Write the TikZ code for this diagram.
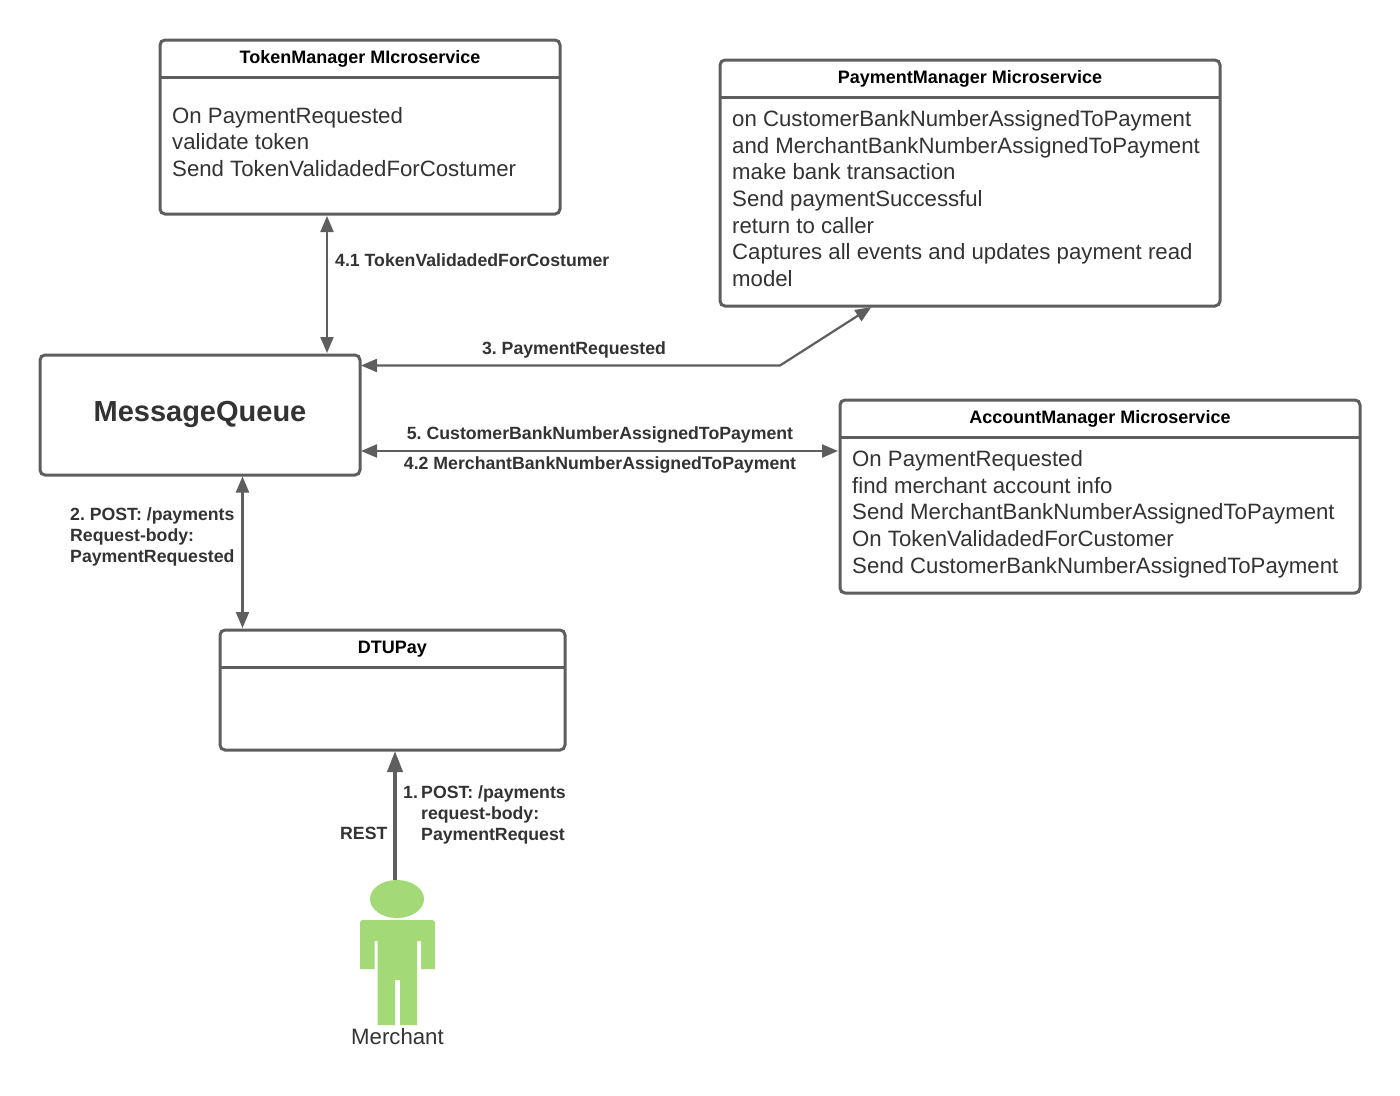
\documentclass[tikz,border=0pt]{standalone}
\usepackage{fontspec}
\setmainfont{Liberation Sans}
\usetikzlibrary{arrows.meta,calc,shapes.geometric}
\definecolor{ln}{HTML}{5E5E5E}
\definecolor{tx}{HTML}{333333}
\definecolor{grn}{HTML}{A3D977}
\tikzset{
  box/.style={draw=ln,line width=3pt,rounded corners=5pt,fill=white,inner sep=0pt,outer sep=0pt,minimum width=#1},
  divider/.style={draw=ln,line width=3pt},
  head/.style={font=\fontsize{18}{21}\selectfont\bfseries,text=black,inner sep=0pt,anchor=center},
  body/.style={font=\fontsize{22.2}{26.6}\selectfont,text=tx,inner sep=0pt,anchor=north west,align=left},
  lab/.style={font=\fontsize{17.7}{21.3}\selectfont\bfseries\frenchspacing,text=tx,inner sep=0pt,align=left},
  conn/.style={draw=ln,line width=2.2pt},
  two/.style={{Triangle[length=16pt,width=13pt]}-{Triangle[length=16pt,width=13pt]}},
  one/.style={-{Triangle[length=21pt,width=15pt]}},
}
\begin{document}
\begin{tikzpicture}[x=1pt,y=-1pt]
\useasboundingbox (0,0) rectangle (1400,1095);
\fill[white] (0,0) rectangle (1400,1095);
% boxes
\node[box=400pt,minimum height=174pt] (tm) at (360,127) {};
\node[box=500pt,minimum height=246pt] (pm) at (970,183) {};
\node[box=520pt,minimum height=193pt] (am) at (1100,496.5) {};
\node[box=320pt,minimum height=120pt] (mq) at (200,415) {};
\node[box=345pt,minimum height=120pt] (dtu) at (392.5,690) {};
% header dividers
\coordinate (tmd) at (0,77);
\coordinate (pmd) at (0,97);
\coordinate (amd) at (0,437);
\coordinate (dtd) at (0,667);
\draw[divider] (tm.west |- tmd) -- (tm.east |- tmd);
\draw[divider] (pm.west |- pmd) -- (pm.east |- pmd);
\draw[divider] (am.west |- amd) -- (am.east |- amd);
\draw[divider] (dtu.west |- dtd) -- (dtu.east |- dtd);
% headers
\node[head] (tmh) at (360,58.5) {TokenManager MIcroservice};
\node[head] (pmh) at (970,78.5) {PaymentManager Microservice};
\node[head] (amh) at (1100,418.5) {AccountManager Microservice};
\node[head] (dth) at (392.5,648.8) {DTUPay};
% bodies
\node[body] (tmb) at (172,107) {On PaymentRequested\\validate token\\Send TokenValidadedForCostumer};
\node[body] (pmb) at (732,110.5) {on CustomerBankNumberAssignedToPayment\\and MerchantBankNumberAssignedToPayment\\make bank transaction\\Send paymentSuccessful\\return to caller\\Captures all events and updates payment read\\model};
\node[body] (amb) at (852,450.5) {On PaymentRequested\\find merchant account info\\Send MerchantBankNumberAssignedToPayment\\On TokenValidadedForCustomer\\Send CustomerBankNumberAssignedToPayment};
\node[font=\fontsize{29}{34}\selectfont\bfseries,text=tx,inner sep=0pt] (mqt) at (200,414) {MessageQueue};
% merchant
\node[ellipse,fill=grn,minimum width=54pt,minimum height=38pt,inner sep=0pt,outer sep=0pt] (mh) at (397,899) {};
\fill[grn] (360,969) -- (360,922) -- (362,920) -- (433,920) -- (435,922) -- (435,969) -- (421,969) -- (421,941) -- (417,941) -- (417,1025) -- (400,1025) -- (400,980) -- (395,980) -- (395,1025) -- (377.5,1025) -- (377.5,941) -- (374.5,941) -- (374.5,969) -- cycle;
\node[font=\fontsize{22.2}{26}\selectfont,text=tx,inner sep=0pt] (mt) at (397.5,1037) {Merchant};
% connector guides
\coordinate (x41) at (327,0);
\coordinate (x2) at (242.5,0);
\coordinate (x1) at (395,0);
\coordinate (y3) at (0,365.5);
\coordinate (y5) at (0,451);
\coordinate (bend) at (780,365.5);
\coordinate (x3) at (873,0);
% connectors
\draw[conn,two,shorten <=2pt,shorten >=2pt] (tm.south -| x41) -- (mq.north -| x41);
\draw[conn,two,shorten <=2pt,shorten >=1pt] (pm.south -| x3) -- (bend) -- (mq.east |- y3);
\draw[conn,two,shorten <=1pt,shorten >=2pt] (mq.east |- y5) -- (am.west |- y5);
\draw[conn,two,shorten <=1.5pt,shorten >=2pt] (mq.south -| x2) -- (dtu.north -| x2);
\draw[conn,line width=4pt,one,shorten >=1pt] (mh.north -| x1) -- (dtu.south -| x1);
% labels
\node[lab,anchor=west] (l41) at (335,260.5) {4.1 TokenValidadedForCostumer};
\node[lab] (l3) at (574,349.5) {3. PaymentRequested};
\node[lab] (l5) at (600,435) {5. CustomerBankNumberAssignedToPayment};
\node[lab] (l42) at (600,464.5) {4.2 MerchantBankNumberAssignedToPayment};
\node[lab,anchor=north west] (l2) at (70,507.3) {2. POST: /payments\\Request-body:\\PaymentRequested};
\node[lab,anchor=west] (l1n) at (403,792.5) {1.};
\node[lab,anchor=north west] (l1) at (421,785) {POST: /payments\\request-body:\\PaymentRequest};
\node[lab,anchor=west] (lr) at (340,833) {REST};
\end{tikzpicture}
\end{document}
